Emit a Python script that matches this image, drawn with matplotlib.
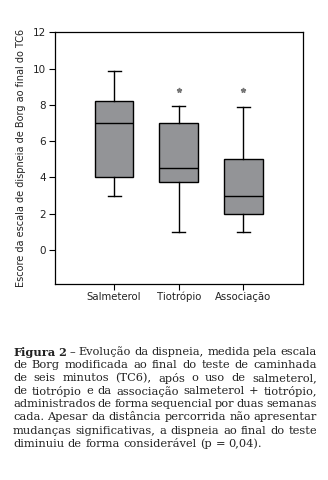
import matplotlib
matplotlib.use("Agg")
import matplotlib.pyplot as plt

categories = ["Salmeterol", "Tiotrópio", "Associação"]
whislo = [3.0, 1.0, 1.0]
q1 = [4.0, 3.75, 2.0]
med = [7.0, 4.5, 3.0]
q3 = [8.2, 7.0, 5.0]
whishi = [9.9, 7.95, 7.9]
fliers = [[], [8.8], [8.8]]
yticks = [0, 2, 4, 6, 8, 10, 12]
ylabel = "Escore da escala de dispneia de Borg ao final do TC6"
caption_bold = "Figura 2 –"
caption_lines = [
    "Evolução da dispneia, medida pela escala",
    "de Borg modificada ao final do teste de caminhada",
    "de seis minutos (TC6), após o uso de salmeterol,",
    "de tiotrópio e da associação salmeterol + tiotrópio,",
    "administrados de forma sequencial por duas semanas",
    "cada. Apesar da distância percorrida não apresentar",
    "mudanças significativas, a dispneia ao final do teste",
    "diminuiu de forma considerável (p = 0,04).",
]

W, H = 328, 480
fig = plt.figure(figsize=(W / 100, H / 100), dpi=100)
ax = fig.add_axes([54.5 / W, 1 - 283.5 / H, (303 - 54.5) / W, (283.5 - 32.5) / H])

stats = []
for i, c in enumerate(categories):
    stats.append(dict(label=c, whislo=whislo[i], q1=q1[i], med=med[i], q3=q3[i],
                      whishi=whishi[i], fliers=fliers[i]))

ax.bxp(stats, positions=[1, 2, 3], widths=0.6, patch_artist=True,
       boxprops=dict(facecolor="#939497", edgecolor="black", linewidth=1.0),
       medianprops=dict(color="black", linewidth=1.0),
       whiskerprops=dict(color="black", linewidth=1.0),
       capprops=dict(color="black", linewidth=1.0),
       flierprops=dict(marker="*", markersize=3.5, markerfacecolor="#777777",
                       markeredgecolor="#777777"),
       capwidths=0.2)

ax.set_xlim(0.08, 3.92)
ax.set_ylim(-1.85, 12)
ax.set_yticks(yticks)
tickfont = "DejaVu Sans"
ax.set_yticklabels([str(t) for t in yticks], fontsize=7.5, family=tickfont, color="#222222")
ax.set_xticklabels(categories, fontsize=7.3, family=tickfont, color="#222222")
ax.tick_params(direction="out", length=4, width=0.8, color="black", pad=2)
for s in ax.spines.values():
    s.set_linewidth(0.9)
ax.set_ylabel(ylabel, fontsize=7.0, family=tickfont, color="#222222", labelpad=5)

# caption with justified lines
serif = "DejaVu Serif"
fs = 8.2
left_px, right_px = 13, 317
top_y = 352
line_h = 13.1
renderer = fig.canvas.get_renderer()

def width_of(txt, weight="normal"):
    t = fig.text(0, 0, txt, fontsize=fs, family=serif, weight=weight)
    w = t.get_window_extent(renderer).width
    t.remove()
    return w

for li, line in enumerate(caption_lines):
    y = 1 - (top_y + li * line_h) / H
    words = line.split(" ")
    x = left_px
    if li == 0:
        words = caption_bold.split(" ") + words
        bold_flags = [True, True] + [False] * (len(words) - 2)
    else:
        bold_flags = [False] * len(words)
    widths = [width_of(w, "bold" if b else "normal") for w, b in zip(words, bold_flags)]
    if li < len(caption_lines) - 1:
        gap = (right_px - left_px - sum(widths)) / (len(words) - 1)
    else:
        gap = width_of("a a") - width_of("aa")
    for w, b, wd in zip(words, bold_flags, widths):
        fig.text(x / W, y, w, fontsize=fs, family=serif, weight="bold" if b else "normal",
                 va="center", ha="left", color="#222222")
        x += wd + gap

fig.savefig("out.png", dpi=100)
